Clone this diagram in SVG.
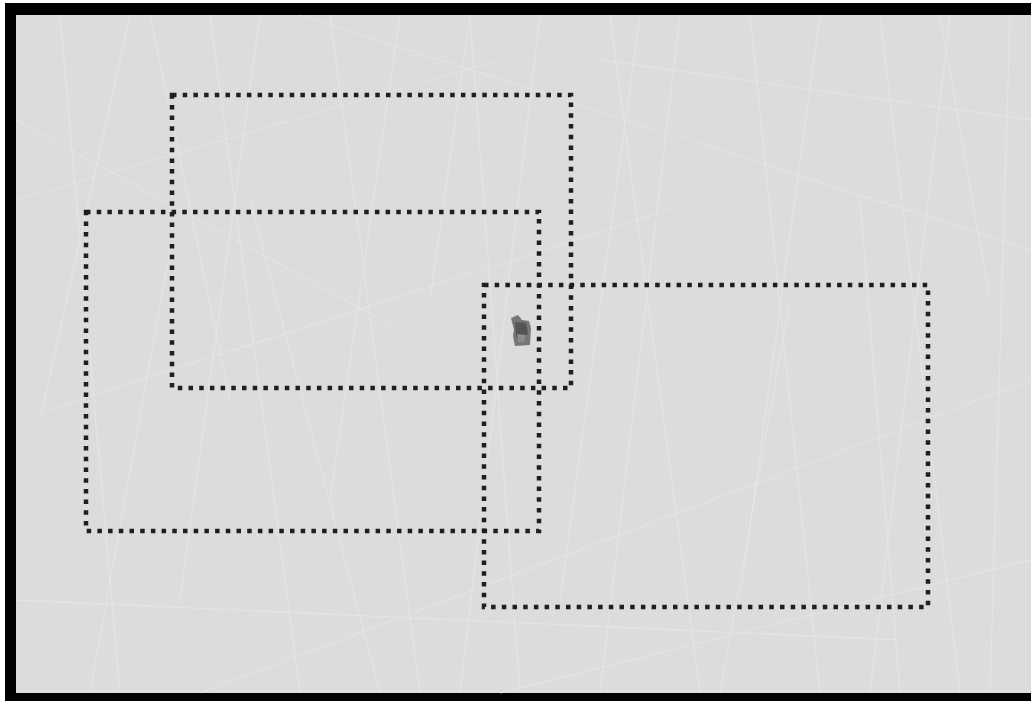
<svg xmlns="http://www.w3.org/2000/svg" width="1031" height="701" viewBox="0 0 1031 701">
<style>
.box{fill:none;stroke:#1e1e1e;stroke-width:4.5;stroke-dasharray:4.5 6.2}
.scr{stroke:#f2f2f2;stroke-width:1.3;opacity:0.35;fill:none}
</style>
<rect x="0" y="0" width="1031" height="701" fill="#ffffff"/>
<rect x="5" y="3" width="1030" height="700" fill="#000000"/>
<rect x="16" y="15" width="1015" height="678" fill="#dcdcdc"/>
<g id="texture">
<path class="scr" d="M60 15 L120 693 M130 15 L40 420 M210 15 L300 693 M260 15 L180 600 M330 15 L420 693 M400 15 L330 500 M470 15 L520 693 M540 15 L460 693 M610 15 L700 693 M680 15 L600 693 M750 15 L820 693 M820 15 L740 600 M880 15 L960 693 M950 15 L870 693 M1010 15 L990 693"/>
<path class="scr" d="M16 200 L500 60 M16 420 L700 200 M200 693 L1031 380 M300 15 L1031 250 M16 600 L900 640 M500 693 L1031 560 M16 120 L400 330 M600 60 L1031 120"/>
<path class="scr" d="M90 693 L170 250 M380 693 L250 200 M560 600 L640 15 M720 693 L790 300 M900 693 L860 200 M150 15 L230 400 M430 300 L470 15 M990 300 L940 15"/>
</g>
<g id="connectors"></g>
<g id="box1"><rect class="box" x="172" y="95" width="399" height="293"/></g>
<g id="box2"><rect class="box" x="86" y="212" width="453" height="319"/></g>
<g id="box3"><rect class="box" x="484" y="285" width="444" height="322"/></g>
<g id="object">
<path d="M511 318 L518 315 L522 320 L529 321 L531 328 L530 345 L515 346 L513 336 L514 330 Z" fill="#777777"/>
<path d="M515 322 L526 323 L528 333 L521 342 L516 337 Z" fill="#555555"/>
<path d="M517 334 L526 335 L524 342 L518 342 Z" fill="#8c8c8c"/>
</g>
</svg>
